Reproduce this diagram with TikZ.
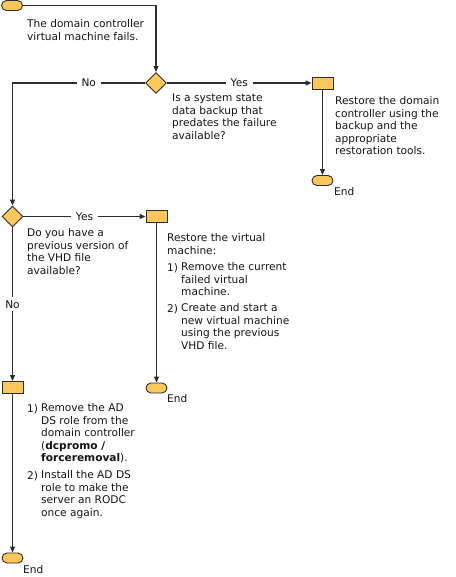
\documentclass[tikz,border=0pt]{standalone}
\usepackage{fontspec}
\setmainfont{DejaVu Sans}
\usetikzlibrary{shapes.geometric,arrows.meta}
\definecolor{boxfill}{RGB}{250,200,90}
\definecolor{edge}{RGB}{45,45,45}
\definecolor{ink}{RGB}{20,20,20}
\tikzset{
 term/.style={draw=edge, fill=boxfill, rounded corners=5pt, minimum width=21pt, minimum height=10pt, inner sep=0pt, line width=0.9pt},
 proc/.style={draw=edge, fill=boxfill, rectangle, minimum width=21pt, minimum height=12pt, inner sep=0pt, line width=0.9pt},
 dec/.style={draw=edge, fill=boxfill, diamond, minimum width=21pt, minimum height=21pt, inner sep=0pt, line width=0.9pt},
 txt/.style={font=\fontsize{10.6}{12.5}\selectfont, text=ink, align=left, inner sep=0pt, anchor=north west, yshift=8.75pt, execute at begin node=\strut},
 conn/.style={draw=edge, line width=1.2pt},
 arr/.style={conn, -{Triangle[length=6pt,width=5pt]}},
 lbl/.style={font=\fontsize{10.6}{12.5}\selectfont, text=ink, fill=white, inner xsep=5pt, inner ysep=1pt},
}
\begin{document}
\begin{tikzpicture}[x=1pt,y=-1pt]
\useasboundingbox (0,0) rectangle (455,577);
% shapes
\node[term] (start) at (12,5.5) {};
\node[dec] (d1) at (156,83) {};
\node[proc] (r1) at (322.5,83) {};
\node[term] (e1) at (322.5,180.5) {};
\node[dec] (d2) at (12.5,216.5) {};
\node[proc] (r2) at (156.5,216.5) {};
\node[term] (e2) at (156.5,388) {};
\node[proc] (r3) at (12.5,387.5) {};
\node[term] (e3) at (12.5,558) {};
% texts (positions give first-line baselines)
\node[txt] (t0) at (27,28) {The domain controller\\virtual machine fails.};
\node[txt] (q1) at (172,102.5) {Is a system state\\data backup that\\predates the failure\\available?};
\node[txt] (t1) at (335,105) {Restore the domain\\controller using the\\backup and the\\appropriate\\restoration tools.};
\node[txt] (q2) at (27,237) {Do you have a\\previous version of\\the VHD file\\available?};
\node[txt] (t2a) at (167,242) {Restore the virtual\\machine:};
\node[txt] (t2b) at (167,271) {1)};
\node[txt] (t2c) at (181,271) {Remove the current\\failed virtual\\machine.};
\node[txt] (t2d) at (167,312) {2)};
\node[txt] (t2e) at (181,312) {Create and start a\\new virtual machine\\using the previous\\VHD file.};
\node[txt] (t3a) at (27,412) {1)};
\node[txt] (t3b) at (41,412) {Remove the AD\\DS role from the\\domain controller\\(\textbf{dcpromo /}\\\textbf{forceremoval}).};
\node[txt] (t3c) at (27,479) {2)};
\node[txt] (t3d) at (41,479) {Install the AD DS\\role to make the\\server an RODC\\once again.};
\node[txt] (end1) at (334,195) {End};
\node[txt] (end2) at (167,402) {End};
\node[txt] (end3) at (23,573) {End};
% connectors
\draw[arr] (start.east) -| (d1.north);
\draw[arr] (d1.west) -| node[lbl,pos=0.2125] {No} (d2.north);
\draw[arr] (d1.east) -- node[lbl] {Yes} (r1.west);
\draw[arr] (r1.south) -- (e1.north);
\draw[arr] (d2.east) -- node[lbl] {Yes} (r2.west);
\draw[arr] (d2.south) -- node[lbl,inner xsep=1pt,inner ysep=3pt] {No} (r3.north);
\draw[arr] (r2.south) -- (e2.north);
\draw[arr] (r3.south) -- (e3.north);
\end{tikzpicture}
\end{document}
